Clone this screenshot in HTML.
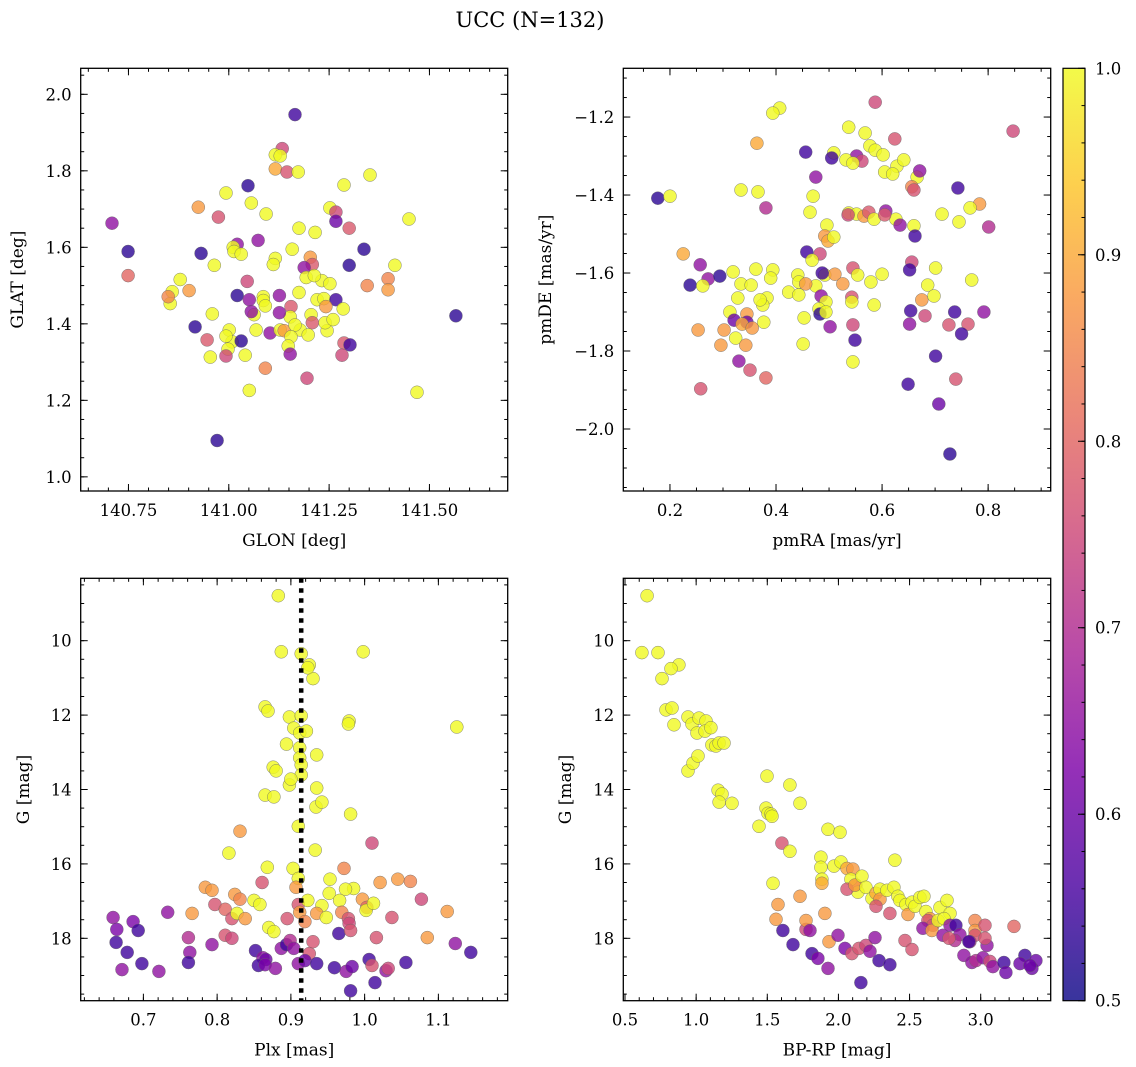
<!DOCTYPE html>
<html><head><meta charset="utf-8"><style>
html,body{margin:0;padding:0;background:#fff;}
svg{display:block;font-family:"DejaVu Serif","Liberation Serif",serif;}
</style></head><body>
<svg id="fig" width="1136" height="1067" viewBox="0 0 1136 1067" xmlns="http://www.w3.org/2000/svg">
<defs>
<linearGradient id="plasma" x1="0" y1="1" x2="0" y2="0">
<stop offset="0" stop-color="#0d0887"/><stop offset="0.125" stop-color="#4c02a1"/><stop offset="0.25" stop-color="#7e03a8"/><stop offset="0.375" stop-color="#a92395"/><stop offset="0.5" stop-color="#cc4778"/><stop offset="0.625" stop-color="#e66c5c"/><stop offset="0.75" stop-color="#f89540"/><stop offset="0.875" stop-color="#fdc527"/><stop offset="1" stop-color="#f0f921"/>
</linearGradient>
</defs>
<text x="530" y="27" font-size="21" text-anchor="middle">UCC (N=132)</text>
</svg>
<script>
// Panel 1: GLON, GLAT, colour value
const p1 = [[141.165,1.947,.55],[141.133,1.858,.75],[141.116,1.842,1],[141.128,1.839,1],[141.116,1.805,.9],[141.145,1.797,.77],[141.173,1.797,1],[141.352,1.789,1],[141.287,1.763,1],[141.048,1.761,.53],[140.993,1.742,1],[141.056,1.716,1],[141.252,1.703,1],[141.267,1.692,.75],[140.924,1.705,.88],[140.974,1.679,.77],[141.449,1.674,1],[140.709,1.663,.65],[141.093,1.687,1],[141.175,1.650,1],[141.300,1.650,.78],[141.215,1.639,1],[141.073,1.618,.65],[141.267,1.668,.6],[141.021,1.608,.65],[141.011,1.600,1],[141.013,1.589,1],[141.158,1.595,1],[140.749,1.589,.53],[140.931,1.584,.53],[141.031,1.582,1],[141.337,1.595,.53],[141.116,1.571,1],[141.111,1.555,1],[141.203,1.574,.88],[141.208,1.555,.78],[140.964,1.553,1],[141.414,1.553,1],[141.300,1.553,.53],[141.188,1.547,.65],[141.193,1.521,1],[140.749,1.526,.8],[141.046,1.511,.75],[141.397,1.518,.85],[141.397,1.489,.88],[141.232,1.513,1],[141.213,1.526,1],[141.252,1.505,1],[141.345,1.500,.85],[140.879,1.516,1],[140.859,1.484,1],[140.854,1.453,1],[140.849,1.471,.85],[140.901,1.487,.88],[141.175,1.482,1],[141.126,1.474,.65],[141.086,1.471,1],[141.086,1.461,1],[141.091,1.447,1],[141.021,1.474,.53],[141.051,1.463,.65],[141.220,1.463,1],[141.237,1.466,1],[141.267,1.463,.55],[141.285,1.439,1],[141.155,1.445,.78],[141.153,1.418,1],[140.959,1.426,1],[141.063,1.424,1],[141.056,1.432,.65],[141.242,1.445,.88],[141.205,1.424,1],[141.126,1.429,.65],[140.916,1.392,.53],[141.208,1.403,.78],[141.178,1.384,1],[141.198,1.371,1],[141.245,1.382,1],[141.240,1.403,1],[141.260,1.411,1],[141.001,1.384,1],[141.068,1.384,1],[141.103,1.376,.65],[141.128,1.384,1],[141.138,1.382,.88],[141.165,1.397,1],[141.008,1.353,1],[140.993,1.368,1],[141.031,1.355,.53],[140.998,1.334,1],[141.155,1.366,1],[141.148,1.342,1],[141.287,1.350,.78],[141.302,1.345,.55],[140.954,1.313,1],[140.993,1.316,.75],[141.041,1.318,1],[141.153,1.321,.65],[141.282,1.318,.75],[141.091,1.284,.85],[141.195,1.258,.75],[141.051,1.226,1],[141.469,1.221,1],[141.566,1.421,.53],[140.971,1.095,.53],[140.946,1.358,.78]];
// Panel 2: pmRA, pmDE, colour value
const p2 = [[0.407,-1.177,1],[0.394,-1.190,1],[0.587,-1.162,.75],[0.847,-1.236,.75],[0.537,-1.226,1],[0.568,-1.241,1],[0.577,-1.274,1],[0.587,-1.285,1],[0.364,-1.267,.9],[0.509,-1.292,1],[0.552,-1.300,.65],[0.562,-1.313,.75],[0.532,-1.310,1],[0.545,-1.318,1],[0.505,-1.305,.55],[0.602,-1.297,1],[0.624,-1.256,.77],[0.456,-1.290,.55],[0.628,-1.326,1],[0.641,-1.310,1],[0.605,-1.341,1],[0.620,-1.346,1],[0.666,-1.354,1],[0.671,-1.338,.65],[0.475,-1.354,.65],[0.334,-1.387,1],[0.656,-1.379,.85],[0.660,-1.387,.77],[0.743,-1.382,.55],[0.784,-1.423,.88],[0.766,-1.433,1],[0.470,-1.403,1],[0.366,-1.392,1],[0.177,-1.408,.53],[0.200,-1.403,1],[0.464,-1.444,1],[0.537,-1.446,1],[0.552,-1.449,1],[0.566,-1.454,.88],[0.575,-1.444,.78],[0.585,-1.462,1],[0.536,-1.451,.75],[0.626,-1.462,1],[0.607,-1.441,.65],[0.605,-1.451,.78],[0.713,-1.449,1],[0.745,-1.469,1],[0.634,-1.477,.65],[0.660,-1.479,1],[0.381,-1.433,.7],[0.496,-1.477,1],[0.492,-1.505,.88],[0.498,-1.518,.9],[0.509,-1.508,1],[0.801,-1.482,.7],[0.662,-1.505,.55],[0.458,-1.546,.55],[0.483,-1.551,.75],[0.225,-1.551,.9],[0.468,-1.567,1],[0.545,-1.587,.77],[0.656,-1.572,.75],[0.652,-1.592,.55],[0.492,-1.605,1],[0.511,-1.603,.88],[0.554,-1.605,1],[0.600,-1.603,1],[0.701,-1.587,1],[0.257,-1.579,.65],[0.272,-1.615,.65],[0.319,-1.597,1],[0.362,-1.590,1],[0.394,-1.592,1],[0.390,-1.613,1],[0.441,-1.605,1],[0.487,-1.600,.55],[0.443,-1.623,1],[0.294,-1.608,.53],[0.475,-1.633,1],[0.456,-1.628,.88],[0.238,-1.631,.53],[0.262,-1.633,1],[0.334,-1.628,1],[0.353,-1.631,1],[0.526,-1.628,.88],[0.579,-1.623,1],[0.686,-1.631,1],[0.769,-1.618,1],[0.328,-1.664,1],[0.383,-1.664,1],[0.424,-1.649,1],[0.443,-1.656,1],[0.485,-1.659,.65],[0.494,-1.674,1],[0.543,-1.662,.77],[0.543,-1.674,1],[0.375,-1.682,1],[0.370,-1.669,1],[0.585,-1.682,1],[0.675,-1.669,.88],[0.698,-1.659,1],[0.654,-1.697,.55],[0.313,-1.700,1],[0.345,-1.705,.88],[0.377,-1.726,1],[0.321,-1.721,.6],[0.345,-1.726,.6],[0.453,-1.715,1],[0.481,-1.692,1],[0.483,-1.705,.53],[0.494,-1.700,1],[0.681,-1.710,.75],[0.737,-1.700,.55],[0.792,-1.700,.65],[0.726,-1.733,.77],[0.762,-1.731,.77],[0.652,-1.731,.65],[0.545,-1.733,.75],[0.336,-1.731,.9],[0.355,-1.741,.88],[0.302,-1.746,.88],[0.253,-1.746,.88],[0.502,-1.738,.65],[0.549,-1.772,.55],[0.324,-1.767,1],[0.451,-1.782,1],[0.750,-1.756,.55],[0.296,-1.785,.88],[0.343,-1.785,.88],[0.701,-1.813,.55],[0.545,-1.828,1],[0.330,-1.826,.65],[0.739,-1.872,.77],[0.351,-1.849,.77],[0.381,-1.869,.8],[0.649,-1.885,.55],[0.258,-1.897,.77],[0.707,-1.936,.6],[0.728,-2.064,.53]];
// Panel 3: Plx, G, colour value
const p3 = [[0.883,8.79,1],[0.887,10.30,1],[0.914,10.35,1],[0.925,10.65,1],[0.930,11.02,1],[0.923,10.73,1],[0.998,10.30,1],[0.865,11.78,1],[0.869,11.89,1],[0.898,12.05,1],[0.904,12.35,1],[0.914,12.02,1],[0.912,12.48,1],[0.921,12.43,1],[0.979,12.16,1],[0.978,12.24,1],[1.125,12.32,1],[0.894,12.78,1],[0.912,12.88,1],[0.912,13.15,1],[0.914,13.34,1],[0.914,13.61,1],[0.935,13.07,1],[0.876,13.40,1],[0.880,13.50,1],[0.898,13.88,1],[0.900,13.72,1],[0.865,14.15,1],[0.877,14.20,1],[0.935,13.96,1],[0.934,14.47,1],[0.942,14.34,1],[0.981,14.66,1],[0.910,14.99,1],[0.933,15.63,1],[0.831,15.12,.88],[0.816,15.71,1],[1.010,15.44,.75],[0.868,16.09,1],[0.903,16.12,1],[0.910,16.39,1],[0.972,16.12,.85],[0.861,16.50,.77],[0.784,16.63,.88],[0.793,16.71,.88],[0.824,16.82,.88],[0.831,16.95,.85],[0.907,16.63,.88],[0.910,17.09,.77],[0.953,16.41,1],[0.952,16.79,1],[0.985,16.66,1],[0.974,16.68,1],[0.966,16.98,1],[1.021,16.50,.88],[1.045,16.41,.88],[1.062,16.47,.85],[0.733,17.30,.65],[0.766,17.33,.88],[0.797,17.09,.77],[0.811,17.22,.8],[0.820,17.47,.77],[0.827,17.33,1],[0.850,16.98,1],[0.858,17.09,1],[0.923,16.98,1],[0.942,17.12,1],[0.935,17.33,.88],[0.948,17.44,1],[0.969,17.30,.85],[0.997,16.95,.88],[1.003,17.17,.8],[0.978,17.47,.77],[0.979,17.60,.75],[1.002,17.25,1],[1.012,17.06,1],[0.870,17.71,1],[0.877,17.82,1],[0.895,17.47,.77],[0.912,17.30,.88],[0.919,17.55,.85],[1.037,17.44,.77],[1.077,16.95,.75],[1.085,17.98,.88],[1.112,17.28,.88],[0.838,17.47,.88],[0.811,17.92,.77],[0.761,17.98,.7],[0.965,17.87,.55],[0.981,17.79,.77],[1.016,17.98,.77],[0.659,17.44,.65],[0.664,17.76,.62],[0.686,17.55,.62],[0.693,17.79,.55],[0.663,18.11,.55],[0.678,18.38,.55],[0.763,18.38,.65],[0.793,18.17,.65],[0.820,18.00,.75],[0.852,18.33,.55],[0.862,18.52,.65],[0.866,18.57,.6],[0.887,18.27,.65],[0.894,18.17,.55],[0.899,18.06,.7],[0.904,18.27,.65],[0.925,18.41,.77],[0.930,18.09,.77],[0.856,18.73,.55],[0.865,18.71,.62],[0.879,18.81,.65],[0.910,18.68,.65],[0.919,18.60,.6],[0.935,18.68,.55],[0.959,18.79,.55],[0.975,18.89,.65],[0.983,18.76,.6],[1.006,18.57,.55],[1.010,18.73,.77],[1.029,18.87,.65],[1.056,18.65,.55],[1.032,18.81,.75],[1.123,18.14,.65],[1.144,18.38,.55],[0.671,18.84,.65],[0.721,18.89,.65],[0.698,18.68,.55],[0.761,18.65,.55],[0.981,19.41,.55],[1.014,19.19,.55]];
// Panel 4: BP-RP, G, colour value
const p4 = [[0.655,8.79,1],[0.619,10.32,1],[0.732,10.32,1],[0.760,11.02,1],[0.788,11.86,1],[0.830,11.81,1],[0.879,10.65,1],[0.823,10.75,1],[0.844,12.26,1],[0.943,12.05,1],[0.971,12.24,1],[1.006,12.48,1],[1.020,12.08,1],[1.069,12.16,1],[1.062,12.43,1],[1.111,12.80,1],[1.104,12.34,1],[1.139,12.83,1],[1.161,12.75,1],[1.196,12.75,1],[0.943,13.50,1],[0.978,13.29,1],[1.013,13.10,1],[1.154,14.02,1],[1.182,14.12,1],[1.161,14.34,1],[1.252,14.37,1],[1.498,13.64,1],[1.659,13.88,1],[1.730,14.37,1],[1.491,14.50,1],[1.505,14.64,1],[1.526,14.66,1],[1.442,14.99,1],[1.533,14.72,1],[1.603,15.44,.77],[1.659,15.66,1],[1.540,16.52,1],[1.877,15.82,1],[1.927,15.07,1],[2.011,15.15,1],[1.877,16.09,1],[1.884,16.41,1],[1.884,16.52,.9],[1.969,16.06,1],[2.018,15.95,1],[2.060,16.12,.9],[2.102,16.14,.88],[2.123,16.57,.88],[2.088,16.41,1],[2.137,16.76,1],[2.060,16.68,.77],[2.116,16.57,.88],[2.165,16.33,1],[2.193,16.63,1],[2.236,16.93,1],[2.264,16.79,.9],[2.292,16.68,1],[2.292,16.95,.88],[2.341,16.71,1],[2.390,16.63,1],[2.418,16.87,1],[2.397,15.90,1],[2.362,17.33,.77],[2.264,17.14,.77],[2.432,16.98,1],[2.475,17.09,1],[2.489,17.36,.88],[2.517,17.03,1],[2.538,17.14,1],[2.573,16.90,1],[2.601,16.87,1],[2.615,17.28,1],[2.643,17.47,.88],[2.629,17.52,.77],[2.664,17.65,.77],[2.594,17.73,.65],[2.657,17.79,.88],[2.700,17.52,1],[2.714,17.17,1],[2.763,16.98,1],[2.784,17.33,1],[2.742,17.47,1],[2.784,17.65,.65],[2.826,17.65,.55],[2.854,17.90,.65],[2.735,17.92,.65],[2.819,18.06,.7],[2.777,18.00,.77],[2.960,17.52,.85],[2.960,17.79,.88],[2.960,17.92,.77],[2.924,18.09,.7],[3.030,17.65,.77],[3.044,18.19,.65],[2.882,18.46,.65],[2.938,18.65,.65],[2.967,18.60,.7],[3.016,18.52,.65],[3.065,18.62,.75],[3.086,18.76,.65],[3.163,18.65,.55],[3.177,18.92,.6],[3.234,17.68,.8],[3.311,18.46,.55],[3.276,18.68,.6],[3.360,18.81,.6],[3.388,18.60,.6],[3.346,18.73,.6],[2.917,18.09,.55],[3.030,18.00,.77],[1.772,17.76,.75],[1.814,18.41,.55],[1.856,18.54,.62],[1.905,17.33,.88],[1.934,18.09,.88],[1.730,16.87,.88],[1.772,17.52,.88],[1.997,17.92,.65],[2.046,18.27,.62],[2.095,18.41,.77],[2.144,18.27,.77],[2.193,18.19,.75],[2.222,18.35,.65],[2.285,18.60,.55],[2.362,18.71,.55],[2.158,19.19,.55],[1.927,18.81,.65],[1.681,18.17,.55],[1.800,17.79,.65],[1.575,17.09,.88],[1.561,17.49,.88],[1.610,17.79,.55],[2.257,17.98,.65],[2.468,18.06,.77],[2.517,18.30,.77]];
const plxMean = [0.914];
const p1XTicks = [140.75,141.00,141.25,141.50];
const p1YTicks = [1.0,1.2,1.4,1.6,1.8,2.0];
const p2XTicks = [0.2,0.4,0.6,0.8];
const p2YTicks = [-2.0,-1.8,-1.6,-1.4,-1.2];
const p3XTicks = [0.7,0.8,0.9,1.0,1.1];
const gTicks = [10,12,14,16,18];
const p4XTicks = [0.5,1.0,1.5,2.0,2.5,3.0];
const cbTicks = [0.5,0.6,0.7,0.8,0.9,1.0];

const NS='http://www.w3.org/2000/svg';
const svg=document.getElementById('fig');
function mk(tag,attrs,parent){const e=document.createElementNS(NS,tag);for(const k in attrs)e.setAttribute(k,attrs[k]);(parent||svg).appendChild(e);return e;}
const stops=[[13,8,135],[76,2,161],[126,3,168],[169,35,149],[204,71,120],[230,108,92],[248,149,64],[253,197,39],[240,249,33]];
function plasma(v){let t=Math.max(0,Math.min(1,(v-0.5)/0.5))*8;const i=Math.min(7,Math.floor(t));const f=t-i;const a=stops[i],b=stops[i+1];return 'rgb('+[0,1,2].map(k=>Math.round(a[k]+(b[k]-a[k])*f)).join(',')+')';}
function fmt(v,d){const s=Math.abs(v).toFixed(d);return (v<0?'\u2212':'')+s;}

function panel(o){
  const g=mk('g',{});
  
  
  const sx=v=>o.x0+(v-o.xd[0])/(o.xd[1]-o.xd[0])*(o.x1-o.x0);
  const sy=o.invert? (v=>o.y0+(v-o.yd[0])/(o.yd[1]-o.yd[0])*(o.y1-o.y0)) : (v=>o.y1-(v-o.yd[0])/(o.yd[1]-o.yd[0])*(o.y1-o.y0));
  const pg=mk('g',{},g);
  
  
  o.data.forEach(d=>{
    const c=mk('circle',{cx:sx(d[0]).toFixed(1),cy:sy(d[1]).toFixed(1),r:6.5,fill:plasma(d[2]),'fill-opacity':0.8,stroke:'#666','stroke-width':0.5,'stroke-opacity':0.8},pg);
    
    
  });
  if(o.extra)o.extra(g,sx,sy);
  const fr=mk('rect',{x:o.x0,y:o.y0,width:o.x1-o.x0,height:o.y1-o.y0,fill:'none',stroke:'#000','stroke-width':1.3},g);
  
  
  const tg=mk('g',{stroke:'#000','stroke-width':1},g);
  for(let v=Math.ceil(o.xd[0]/o.xm-1e-9)*o.xm; v<=o.xd[1]; v+=o.xm){const x=sx(v);mk('line',{x1:x,x2:x,y1:o.y1,y2:o.y1-3.5},tg);mk('line',{x1:x,x2:x,y1:o.y0,y2:o.y0+3.5},tg);}
  for(let v=Math.ceil(o.yd[0]/o.ym-1e-9)*o.ym; v<=o.yd[1]; v+=o.ym){const y=sy(v);mk('line',{x1:o.x0,x2:o.x0+3.5,y1:y,y2:y},tg);mk('line',{x1:o.x1,x2:o.x1-3.5,y1:y,y2:y},tg);}
  o.xt.forEach(v=>{const x=sx(v);mk('line',{x1:x,x2:x,y1:o.y1,y2:o.y1-7},tg);mk('line',{x1:x,x2:x,y1:o.y0,y2:o.y0+7},tg);
    const t=mk('text',{x:x,y:o.y1+25,'font-size':16.5,'text-anchor':'middle'},g);t.textContent=fmt(v,o.xdp);
    
    });
  o.yt.forEach(v=>{const y=sy(v);mk('line',{x1:o.x0,x2:o.x0+7,y1:y,y2:y},tg);mk('line',{x1:o.x1,x2:o.x1-7,y1:y,y2:y},tg);
    const t=mk('text',{x:o.x0-9,y:y+6,'font-size':16.5,'text-anchor':'end'},g);t.textContent=fmt(v,o.ydp);
    
    });
  const xl=mk('text',{x:(o.x0+o.x1)/2,y:o.y1+55,'font-size':17,'text-anchor':'middle'},g);xl.textContent=o.xlab;
  
  
  const yl=mk('text',{x:0,y:0,'font-size':17,'text-anchor':'middle',transform:'translate('+o.ylx+','+((o.y0+o.y1)/2)+') rotate(-90)'},g);yl.textContent=o.ylab;
  
  
}

panel({name:'glon-glat-panel',x0:80.7,x1:507.7,y0:68.3,y1:491,xd:[140.631,141.695],yd:[0.963,2.068],xm:0.05,ym:0.05,xt:p1XTicks,yt:p1YTicks,xdp:2,ydp:1,xlab:'GLON [deg]',ylab:'GLAT [deg]',ylx:23,data:p1});
panel({name:'pm-panel',x0:623.3,x1:1050.7,y0:68.3,y1:491,xd:[0.112,0.918],yd:[-2.159,-1.075],xm:0.05,ym:0.05,xt:p2XTicks,yt:p2YTicks,xdp:1,ydp:1,xlab:'pmRA [mas/yr]',ylab:'pmDE [mas/yr]',ylx:551,data:p2});
panel({name:'plx-g-panel',x0:80.7,x1:507.7,y0:578.3,y1:1000.7,xd:[0.615,1.194],yd:[8.323,19.677],invert:true,xm:0.02,ym:0.5,xt:p3XTicks,yt:gTicks,xdp:1,ydp:0,xlab:'Plx [mas]',ylab:'G [mag]',ylx:29,data:p3,
  extra:(g,sx,sy)=>{plxMean.forEach(v=>{const l=mk('line',{x1:sx(v),x2:sx(v),y1:578.3,y2:1000.7,stroke:'#000','stroke-width':4.5,'stroke-dasharray':'4.5 5.5'},g);
    
    });}});
panel({name:'cmd-panel',x0:623.3,x1:1050.7,y0:578.3,y1:1000.7,xd:[0.488,3.492],yd:[8.323,19.677],invert:true,xm:0.1,ym:0.5,xt:p4XTicks,yt:gTicks,xdp:1,ydp:0,xlab:'BP-RP [mag]',ylab:'G [mag]',ylx:571,data:p4});

(function(){
  const x0=1063,x1=1085,y0=68.3,y1=1000.7;
  const g=mk('g',{});
  
  
  mk('rect',{x:x0,y:y0,width:x1-x0,height:y1-y0,fill:'url(#plasma)','fill-opacity':0.82},g);
  mk('rect',{x:x0,y:y0,width:x1-x0,height:y1-y0,fill:'none',stroke:'#000','stroke-width':1.2},g);
  const sy=v=>y1-(v-0.5)/0.5*(y1-y0);
  for(let v=0.5;v<=1.0001;v+=0.02){const y=sy(v);mk('line',{x1:x1,x2:x1-3.5,y1:y,y2:y,stroke:'#000','stroke-width':1},g);}
  cbTicks.forEach(v=>{const y=sy(v);mk('line',{x1:x1,x2:x1-7,y1:y,y2:y,stroke:'#000','stroke-width':1},g);
    const t=mk('text',{x:x1+10,y:y+6,'font-size':16.5},g);t.textContent=v.toFixed(1);
    
    });
})();
</script>
</body></html>
